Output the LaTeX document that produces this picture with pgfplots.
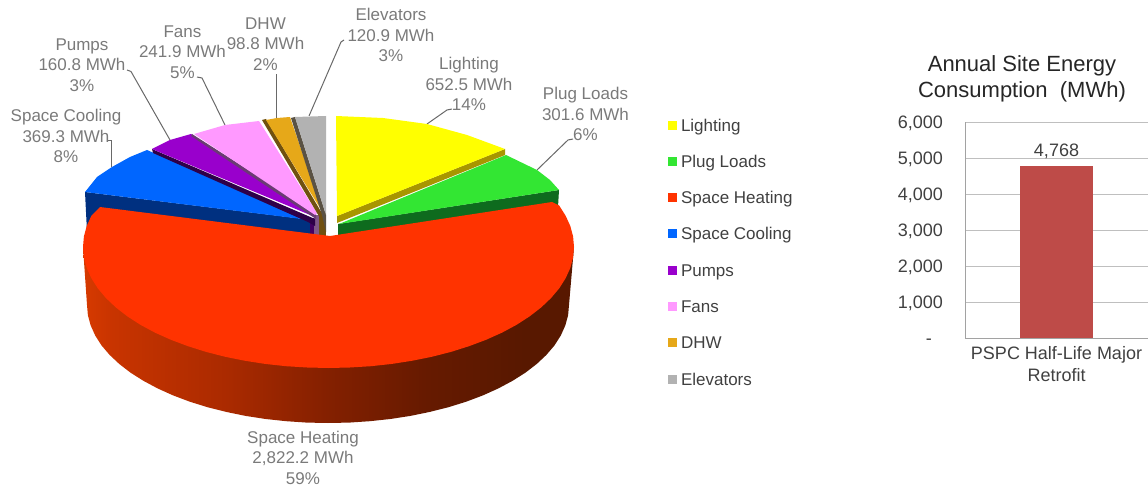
\documentclass[border=0pt]{standalone}
\usepackage{pgfplots}
\usepackage{fontspec}
\setmainfont{Liberation Sans}
\pgfplotsset{compat=1.18}

% Slice faces
\definecolor{cLight}{RGB}{255,255,0}
\definecolor{cPlug}{RGB}{51,230,51}
\definecolor{cHeat}{RGB}{255,51,0}
\definecolor{cCool}{RGB}{0,102,255}
\definecolor{cPump}{RGB}{153,0,204}
\definecolor{cFans}{RGB}{255,153,255}
\definecolor{cDHW}{RGB}{230,168,25}
\definecolor{cElev}{RGB}{178,178,178}
% Slice walls
\definecolor{sLight}{RGB}{168,150,0}
\definecolor{sPlug}{RGB}{14,107,30}
\definecolor{sCool}{RGB}{0,48,128}
\definecolor{sPump}{RGB}{46,0,72}
\definecolor{sFans}{RGB}{107,59,115}
\definecolor{sDHW}{RGB}{112,80,16}
\definecolor{sElev}{RGB}{90,82,68}
\definecolor{labelgray}{RGB}{122,122,122}
\definecolor{leadergray}{RGB}{105,105,105}
\definecolor{textdark}{RGB}{64,64,64}
\definecolor{gridgray}{RGB}{191,191,191}
\definecolor{barred}{RGB}{190,75,72}
% Stops of the wall of the large slice, lit from the left
\definecolor{rimA}{RGB}{215,58,0}
\definecolor{rimB}{RGB}{200,52,0}
\definecolor{rimC}{RGB}{170,42,0}
\definecolor{rimD}{RGB}{132,32,0}
\definecolor{rimE}{RGB}{102,26,0}
\definecolor{rimF}{RGB}{88,24,0}
\definecolor{rimG}{RGB}{86,24,0}

\pgfdeclarehorizontalshading{rimred}{100bp}{
  color(0bp)=(rimA);
  color(25bp)=(rimA);
  color(28bp)=(rimB);
  color(39.7bp)=(rimC);
  color(49.8bp)=(rimD);
  color(60bp)=(rimE);
  color(70bp)=(rimF);
  color(100bp)=(rimG)}

\newcommand{\lab}{\fontsize{17}{20.5}\selectfont}
\newcommand{\ticklab}{\fontsize{18}{22}\selectfont}

\begin{document}
\begin{tikzpicture}
\path[use as bounding box] (0,0) rectangle (1148pt,486pt);

% Pie, its labels and the legend, in a frame of 1148 by 486 units
\begin{axis}[
  at={(0pt,0pt)}, anchor=south west,
  width=1148pt, height=486pt, scale only axis,
  xmin=0, xmax=1148, ymin=0, ymax=486, y dir=reverse,
  hide axis, clip=false,
  legend image code/.code={\fill[#1, draw=none] (0pt,-3pt) rectangle (9pt,6pt);},
  legend cell align=left,
  legend style={
    at={(axis cs:668,118)}, anchor=north west,
    draw=none, fill=none, inner sep=0pt, outer sep=0pt,
    font=\lab, text=textdark, row sep=19.3pt,
    nodes={inner sep=0pt, text height=13pt, text depth=4pt},
    /tikz/every odd column/.style={column sep=4pt}},
]
% leader lines
\pgfplotsset{every axis plot/.append style={forget plot}}
\addplot[leadergray, line width=1pt] coordinates {(111,167) (111,141) (108,141)};
\addplot[leadergray, line width=1pt] coordinates {(170,140) (131,71.5) (127,70)};
\addplot[leadergray, line width=1pt] coordinates {(225,125) (202,78) (197,77)};
\addplot[leadergray, line width=1pt] coordinates {(276,118) (276,74)};
\addplot[leadergray, line width=1pt] coordinates {(309,116) (341,42) (344,40)};
\addplot[leadergray, line width=1pt] coordinates {(427,124) (447,110) (452,109)};
\addplot[leadergray, line width=1pt] coordinates {(537,170) (568,140) (573,139)};

% Space Cooling
\addplot[fill=sCool, draw=none] coordinates {(85,192) (312,220) (313,238) (95,238) (87,232)} --cycle;
\addplot[fill=cCool, draw=none] coordinates {(85,192) (97,177) (112,167) (130,157) (147,150) (310,220)} --cycle;
% walls around the centre
\addplot[fill=sPump!80!cPump, draw=none] coordinates {(310,218) (314,218) (314,238) (310,238)} --cycle;
\addplot[fill=sFans!85!white, draw=none] coordinates {(314,215) (319,215) (319,238) (314,238)} --cycle;
\addplot[fill=sDHW, draw=none] coordinates {(319,212) (326,212) (326,238) (319,238)} --cycle;
% Pumps
\addplot[fill=sPump, draw=none] coordinates {(152,149) (315,219) (315,226) (308,222) (153,153)} --cycle;
\addplot[fill=cPump, draw=none] coordinates {(152,149) (170,140) (191,134) (315,217)} --cycle;
% Fans
\addplot[fill=sFans, draw=none] coordinates {(192,134) (316,213) (316,219) (191,136)} --cycle;
\addplot[fill=cFans, draw=none] coordinates {(194,134) (225,125) (259,121) (317,213) (315,215)} --cycle;
% DHW
\addplot[fill=sDHW, draw=none] coordinates {(262,120) (266,119) (323,215) (322,225) (320,218)} --cycle;
\addplot[fill=cDHW, draw=none] coordinates {(266,120) (277,118) (290,117) (323,213)} --cycle;
% Elevators
\addplot[fill=sElev, draw=none] coordinates {(291,118) (295,117) (326,215) (326,232) (322,215)} --cycle;
\addplot[fill=cElev, draw=none] coordinates {(295,117) (326,116) (326,215)} --cycle;
% Plug Loads
\addplot[fill=sPlug, draw=none] coordinates {(559,190) (558,207) (500,215) (338,240) (338,224)} --cycle;
\addplot[fill=cPlug, draw=none] coordinates {(506,155) (537,170) (550,180) (559,190) (339,224)} --cycle;
% Lighting
\addplot[fill=sLight, draw=none] coordinates {(505,149) (505,155) (337,223) (337,216)} --cycle;
\addplot[fill=cLight, draw=none] coordinates {(336,116) (383,118) (427,124) (467,135) (505,149) (337,216)} --cycle;

% Space Heating: outer wall, then the face
\addplot[shade, shading=rimred, draw=none] coordinates {
  (83,247) (574,247) (569,305) (568.1,315.3) (565.3,325.5) (560.8,335.5) (554.5,345.4)
  (546.4,354.9) (536.7,364) (525.4,372.7) (512.6,380.8) (498.4,388.4) (482.9,395.4)
  (466.2,401.7) (448.5,407.2) (429.9,411.9) (410.4,415.9) (390.4,419) (369.8,421.2)
  (349,422.6) (328,423) (307,422.6) (286.2,421.2) (265.6,419) (245.6,415.9) (226.1,411.9)
  (207.5,407.2) (189.8,401.7) (173.1,395.4) (157.6,388.4) (143.4,380.8) (130.6,372.7)
  (119.3,364) (109.6,354.9) (101.5,345.4) (95.2,335.5) (90.7,325.5) (87.9,315.3) (87,305)
} --cycle;
\addplot[fill=cHeat, draw=none] coordinates {
  (330,236) (552,202) (559.2,205.6) (565.6,215.7) (570.3,226) (573.1,236.5) (574,247)
  (573.1,257.5) (570.3,268) (565.6,278.3) (559.2,288.4) (551,298.1) (541.1,307.5)
  (529.6,316.4) (516.6,324.8) (502.1,332.6) (486.3,339.7) (469.3,346.1) (451.3,351.8)
  (432.2,356.7) (412.5,360.7) (392,363.9) (371.1,366.2) (349.9,367.5) (328.5,368)
  (307.1,367.5) (285.9,366.2) (265,363.9) (244.5,360.7) (224.8,356.7) (205.7,351.8)
  (187.7,346.1) (170.7,339.7) (154.9,332.6) (140.4,324.8) (127.4,316.4) (115.9,307.5)
  (106,298.1) (97.8,288.4) (91.4,278.3) (86.7,268) (83.9,257.5) (83,247) (83.9,236.5)
  (86.7,226) (91.4,215.7) (100,207)
} --cycle;

% legend swatches
\addlegendimage{fill=cLight}\addlegendentry{Lighting}
\addlegendimage{fill=cPlug}\addlegendentry{Plug Loads}
\addlegendimage{fill=cHeat}\addlegendentry{Space Heating}
\addlegendimage{fill=cCool}\addlegendentry{Space Cooling}
\addlegendimage{fill=cPump}\addlegendentry{Pumps}
\addlegendimage{fill=cFans}\addlegendentry{Fans}
\addlegendimage{fill=cDHW}\addlegendentry{DHW}
\addlegendimage{fill=cElev}\addlegendentry{Elevators}

% slice labels
\tikzset{pl/.style={font=\lab, text=labelgray, align=center, inner sep=0pt}}
\node[pl] at (axis cs:66,136) {Space Cooling\\369.3 MWh\\8\%};
\node[pl] at (axis cs:82,65) {Pumps\\160.8 MWh\\3\%};
\node[pl] at (axis cs:182.5,52) {Fans\\241.9 MWh\\5\%};
\node[pl] at (axis cs:265.5,44) {DHW\\98.8 MWh\\2\%};
\node[pl] at (axis cs:391,35) {Elevators\\120.9 MWh\\3\%};
\node[pl] at (axis cs:469,84) {Lighting\\652.5 MWh\\14\%};
\node[pl] at (axis cs:585.5,114) {Plug Loads\\301.6 MWh\\6\%};
\node[pl] at (axis cs:303,457.5) {Space Heating\\2,822.2 MWh\\59\%};
% bar chart heading
\node[font=\fontsize{22}{26}\selectfont, text=black!85, align=center, inner sep=0pt]
  at (axis cs:1022,79) {Annual\ Site Energy\\Consumption\ \ (MWh)};
\end{axis}

% Annual total
\begin{axis}[
  at={(965pt,148pt)}, anchor=south west,
  width=183pt, height=216pt, scale only axis,
  xmin=0, xmax=2, ymin=0, ymax=6000,
  ytick={0,1000,2000,3000,4000,5000,6000},
  yticklabels={-\rule{11pt}{0pt},{1,000},{2,000},{3,000},{4,000},{5,000},{6,000}},
  xtick={1}, xticklabels={PSPC Half-Life Major\\Retrofit},
  axis x line*=bottom, axis y line*=left,
  axis line style={gridgray!85!black, -, line width=0.9pt},
  major tick length=0pt,
  ymajorgrids, grid style={gridgray, line width=0.9pt},
  y tick label style={font=\ticklab, text=textdark, anchor=east, inner sep=0pt, xshift=-22pt, text height=13pt, text depth=0pt},
  x tick label style={font=\ticklab, text=textdark, align=center, inner sep=0pt, yshift=-8pt},
  clip=false,
  point meta=y,
  /pgf/number format/assume math mode=true,
  /pgf/number format/1000 sep={,},
  nodes near coords,
  every node near coord/.append style={font=\ticklab, text=textdark, inner sep=0pt, anchor=south, yshift=7.5pt},
]
\addplot[ybar, bar width=73pt, fill=barred, draw=none] coordinates {(1,4768)};
\end{axis}
\end{tikzpicture}
\end{document}
